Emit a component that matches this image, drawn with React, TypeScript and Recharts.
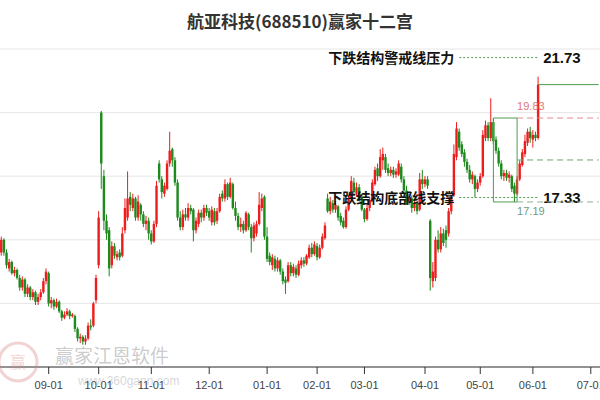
import React from 'react';
import { BarChart, Bar, XAxis, YAxis, CartesianGrid, ReferenceLine } from 'recharts';

// ---- data ----
const opens = [
  15.6, 16.0, 15.6, 15.1, 15.3, 14.95, 15.05, 14.8, 14.5, 14.75, 14.3, 14.5, 14.2, 14.35, 14.05, 14.2, 14.35, 14.7, 14.95, 14.0,
  14.1, 13.9, 14.05, 13.75, 13.55, 13.65, 13.75, 13.6, 13.6, 13.2, 12.9, 12.95, 12.8, 12.9, 13.3, 13.3, 14.1, 15.2, 20.0, 18.0,
  16.6, 16.3, 15.2, 15.8, 15.45, 15.6, 15.5, 16.3, 16.7, 17.35, 17.0, 17.3, 16.7, 17.1, 16.8, 16.5, 16.6, 16.2, 15.95, 16.5,
  18.4, 17.9, 17.45, 17.6, 18.4, 18.85, 18.5, 17.8, 16.7, 16.4, 16.8, 16.7, 17.0, 16.95, 16.3, 16.5, 16.85, 16.7, 17.0, 16.9,
  16.55, 16.9, 16.6, 16.9, 17.45, 17.3, 17.75, 17.35, 17.75, 17.0, 16.75, 16.4, 16.5, 16.3, 16.8, 16.4, 16.05, 16.2, 16.5, 17.0,
  17.35, 16.1, 15.5, 15.2, 15.4, 15.1, 15.35, 15.0, 14.75, 14.7, 15.2, 14.95, 15.1, 14.9, 15.2, 15.35, 15.25, 15.45, 15.75, 15.55,
  15.8, 15.45, 15.75, 16.05, 17.3, 16.9, 17.15, 16.95, 17.05, 16.75, 16.6, 16.4, 16.95, 17.3, 17.8, 17.45, 17.65, 17.35, 16.95, 16.65,
  17.0, 17.25, 17.75, 18.25, 18.0, 18.5, 18.6, 18.25, 18.1, 18.2, 18.05, 18.05, 18.3, 17.9, 17.55, 17.2, 17.3, 17.0, 17.15, 16.95,
  17.9, 17.75, 17.9, 16.6, 14.7, 14.8, 16.0, 15.7, 16.2, 16.3, 16.2, 16.9, 17.4, 18.6, 19.4, 19.0, 18.75, 18.45, 18.2, 17.9,
  18.0, 17.6, 17.8, 18.0, 19.2, 19.6, 19.2, 19.7, 19.15, 18.8, 18.4, 18.0, 18.1, 17.95, 18.0, 17.7, 17.45, 17.9, 18.35, 18.7,
  19.05, 19.4, 19.15, 19.3, 19.2,
];
const highs = [
  16.1, 16.05, 15.7, 15.4, 15.35, 15.15, 15.1, 14.9, 14.85, 14.8, 14.6, 14.55, 14.45, 14.4, 14.3, 14.45, 14.8, 15.1, 15.0, 14.2,
  14.15, 14.15, 14.1, 13.8, 13.75, 13.85, 13.8, 13.7, 13.65, 13.25, 13.05, 13.0, 13.0, 13.4, 13.5, 14.05, 14.9, 16.9, 20.05, 18.2,
  16.8, 16.4, 15.95, 15.9, 15.65, 15.7, 16.4, 17.3, 18.15, 17.5, 17.45, 17.35, 17.4, 17.15, 16.9, 16.75, 16.7, 16.3, 16.6, 17.85,
  18.5, 18.0, 17.8, 18.5, 19.4, 18.9, 18.6, 17.9, 16.9, 16.95, 17.0, 17.15, 17.1, 17.0, 16.7, 16.95, 16.95, 17.1, 17.1, 17.0,
  17.05, 17.0, 17.0, 17.45, 17.55, 17.9, 17.8, 17.95, 17.8, 17.2, 16.85, 16.7, 16.6, 16.9, 16.85, 16.5, 16.55, 16.6, 17.5, 17.45,
  17.4, 16.4, 15.6, 15.55, 15.5, 15.45, 15.4, 15.1, 14.85, 15.3, 15.3, 15.25, 15.2, 15.35, 15.45, 15.45, 15.55, 15.85, 15.9, 15.95,
  15.9, 15.85, 16.2, 16.55, 17.45, 17.35, 17.25, 17.2, 17.1, 16.85, 16.7, 17.05, 17.4, 18.0, 17.95, 17.8, 17.75, 17.45, 17.0, 17.1,
  17.35, 17.9, 18.3, 18.4, 18.85, 18.9, 18.7, 18.4, 18.3, 18.3, 18.25, 18.5, 18.4, 18.0, 17.7, 17.45, 17.4, 17.25, 17.2, 18.1,
  18.2, 18.0, 18.0, 16.65, 15.3, 16.1, 16.3, 16.4, 16.35, 16.45, 17.0, 17.4, 19.0, 19.7, 19.5, 19.1, 18.85, 18.55, 18.35, 18.15,
  18.05, 17.9, 18.1, 19.45, 19.75, 19.7, 20.45, 19.83, 19.25, 18.9, 18.5, 18.2, 18.2, 18.15, 18.05, 17.8, 18.0, 18.5, 18.85, 19.3,
  19.5, 19.55, 19.45, 19.4, 21.13,
];
const lows = [
  15.5, 15.5, 15.1, 15.0, 14.9, 14.85, 14.75, 14.4, 14.4, 14.2, 14.2, 14.1, 14.1, 13.95, 13.95, 14.1, 14.3, 14.6, 13.9, 13.85,
  13.8, 13.85, 13.7, 13.45, 13.5, 13.6, 13.5, 13.55, 13.1, 12.8, 12.75, 12.7, 12.7, 12.85, 13.15, 13.25, 14.0, 15.1, 17.6, 16.3,
  16.0, 14.85, 15.1, 15.4, 15.35, 15.35, 15.45, 16.2, 16.6, 16.9, 16.9, 16.6, 16.6, 16.6, 16.4, 16.3, 16.0, 15.85, 15.9, 16.4,
  17.8, 17.3, 17.35, 17.55, 18.3, 18.3, 17.7, 16.6, 16.3, 16.3, 16.6, 16.6, 16.8, 15.95, 16.2, 16.4, 16.55, 16.6, 16.75, 16.6,
  16.45, 16.45, 16.5, 16.85, 17.2, 17.2, 17.25, 17.3, 16.95, 16.6, 16.3, 16.25, 16.2, 16.25, 16.3, 15.6, 15.95, 16.1, 16.45, 16.9,
  16.0, 15.3, 15.2, 15.05, 15.0, 15.0, 14.9, 14.6, 14.3, 14.65, 14.85, 14.85, 14.8, 14.85, 15.1, 15.15, 15.2, 15.4, 15.45, 15.5,
  15.35, 15.4, 15.7, 16.0, 16.85, 16.8, 16.85, 16.85, 16.6, 16.45, 16.35, 16.35, 16.9, 17.25, 17.4, 17.35, 17.2, 16.9, 16.55, 16.6,
  16.9, 17.2, 17.7, 17.85, 17.95, 18.2, 18.1, 18.0, 18.0, 17.95, 17.95, 18.0, 17.8, 17.45, 17.1, 17.1, 16.85, 16.9, 16.8, 16.9,
  17.6, 17.65, 17.6, 14.4, 14.5, 14.7, 15.6, 15.6, 15.8, 15.75, 16.1, 16.8, 17.35, 18.5, 18.8, 18.6, 18.3, 18.1, 17.8, 17.75,
  17.33, 17.5, 17.7, 17.95, 19.1, 19.1, 19.1, 19.0, 18.7, 18.3, 17.9, 17.85, 17.85, 17.8, 17.5, 17.19, 17.4, 17.85, 18.3, 18.6,
  18.95, 19.05, 18.9, 19.1, 19.15,
];
const closes = [
  16.0, 15.6, 15.2, 15.3, 14.95, 15.05, 14.8, 14.5, 14.75, 14.3, 14.5, 14.2, 14.35, 14.05, 14.2, 14.35, 14.7, 15.0, 14.0, 14.1,
  13.9, 14.05, 13.75, 13.55, 13.65, 13.75, 13.6, 13.65, 13.2, 12.9, 12.95, 12.8, 12.9, 13.3, 13.25, 14.0, 14.8, 16.7, 18.4, 16.6,
  16.2, 15.1, 15.8, 15.5, 15.55, 15.45, 16.2, 17.0, 17.3, 17.1, 17.3, 16.7, 17.2, 16.8, 16.5, 16.6, 16.2, 15.95, 16.5, 17.7,
  17.9, 17.5, 17.7, 18.4, 18.8, 18.5, 17.8, 16.7, 16.4, 16.8, 16.7, 17.0, 16.9, 16.3, 16.6, 16.85, 16.7, 17.0, 16.85, 16.7,
  16.95, 16.55, 16.9, 17.35, 17.3, 17.75, 17.35, 17.8, 17.0, 16.75, 16.4, 16.5, 16.3, 16.85, 16.4, 16.05, 16.45, 16.5, 17.1, 17.3,
  16.1, 15.4, 15.3, 15.45, 15.1, 15.35, 15.0, 14.7, 14.65, 15.2, 14.95, 15.15, 14.9, 15.25, 15.35, 15.25, 15.5, 15.75, 15.55, 15.85,
  15.45, 15.75, 16.1, 16.45, 16.9, 17.2, 16.95, 17.1, 16.7, 16.55, 16.4, 16.95, 17.3, 17.85, 17.5, 17.65, 17.3, 16.95, 16.65, 17.0,
  17.25, 17.8, 18.2, 18.0, 18.6, 18.7, 18.2, 18.1, 18.2, 18.05, 18.15, 18.4, 17.9, 17.55, 17.2, 17.35, 17.0, 17.15, 16.9, 17.9,
  17.75, 17.9, 17.7, 14.8, 15.0, 16.0, 15.7, 16.2, 15.9, 16.0, 16.9, 17.35, 18.7, 19.5, 18.9, 18.7, 18.45, 18.2, 17.9, 18.05,
  17.6, 17.8, 18.0, 19.3, 19.6, 19.2, 19.7, 19.1, 18.8, 18.4, 18.0, 18.1, 17.95, 18.05, 17.6, 17.45, 17.9, 18.4, 18.75, 19.1,
  19.4, 19.2, 19.3, 19.2, 20.88,
];
const monthTickIdx = [18, 37, 57, 79, 101, 120, 138, 161, 182, 202, 224];
const monthLabels = ['09-01', '10-01', '11-01', '12-01', '01-01', '02-01', '03-01', '04-01', '05-01', '06-01', '07-01'];
const SLOT_COUNT = 228;
const yTicks = [12, 14, 16, 18, 20, 22];

const PRESSURE = 21.73;
const SUPPORT = 17.33;
const BOX_HIGH = 19.83;
const BOX_LOW = 17.19;
const BOX_MID = 18.51;
const LAST_CLOSE = 20.88;
const LINE_START = 174;
const BOX_START = 187;
const BOX_END = 196;
const LAST_IDX = 204;
const END_IDX = 227;

const RED = '#ee1d1d';
const GREEN = '#1c8a1c';
const LINE_GREEN = '#4e9e4e';
const CJK = '"Noto Sans CJK SC", "Noto Sans", sans-serif';
const LATIN = '"Liberation Sans", Arial, sans-serif';

const data = Array.from({ length: SLOT_COUNT }, (_, i) =>
  i < opens.length
    ? { i, o: opens[i], h: highs[i], l: lows[i], c: closes[i], range: [lows[i], highs[i]] }
    : { i, range: null }
);

const Candle = (props: any) => {
  const { x, y, width, height, payload } = props;
  if (!payload || payload.o == null) return null;
  const { o, h, l, c } = payload;
  const top = Math.min(y, y + height);
  const total = Math.abs(height);
  const span = h - l || 1;
  const yO = top + ((h - o) / span) * total;
  const yC = top + ((h - c) / span) * total;
  const color = c >= o ? RED : GREEN;
  const cx = x + width / 2;
  const bw = 2.4;
  const bTop = Math.min(yO, yC);
  const bH = Math.max(Math.abs(yO - yC), 1);
  return (
    <g>
      <line x1={cx} x2={cx} y1={top} y2={top + total} stroke={color} strokeWidth={1} />
      <rect x={cx - bw / 2} y={bTop} width={bw} height={bH} fill={color} />
    </g>
  );
};

const sideLabel = (text: string, value: string) => (props: any) => {
  const vb = props.viewBox || {};
  return (
    <g>
      <text x={vb.x - 5} y={vb.y} dy="0.36em" textAnchor="end" fontFamily={CJK} fontWeight={700} fontSize={14} fill="#111">
        {text}
      </text>
      <text x={vb.x + (vb.width || 0) + 5} y={vb.y} dy="0.36em" textAnchor="start" fontFamily={LATIN} fontWeight={700} fontSize={15} fill="#111">
        {value}
      </text>
    </g>
  );
};

const smallLabel = (value: string, color: string, dy: number) => (props: any) => {
  const vb = props.viewBox || {};
  return (
    <text x={vb.x} y={vb.y + dy} textAnchor="start" fontFamily={LATIN} fontSize={11} fill={color}>
      {value}
    </text>
  );
};

export default function App() {
  return (
    <div style={{ position: 'absolute', left: 0, top: 0, width: 600, height: 400, background: '#fff', overflow: 'hidden' }}>
      <div
        style={{
          position: 'absolute', left: 0, top: 8, width: 600, textAlign: 'center',
          fontFamily: CJK, fontWeight: 700, fontSize: 17, lineHeight: '26px', color: '#333',
        }}
      >
        航亚科技(688510)赢家十二宫
      </div>
      <BarChart width={600} height={400} data={data} margin={{ top: 49, right: 0, bottom: 0, left: 0 }} barCategoryGap="10%">
        <CartesianGrid vertical={false} stroke="#e6e6e6" />
        <XAxis
          dataKey="i"
          type="category"
          ticks={monthTickIdx}
          interval={0}
          tickFormatter={(v: any) => monthLabels[monthTickIdx.indexOf(Number(v))] ?? ''}
          height={33}
          tickSize={7}
          tickMargin={7}
          axisLine={{ stroke: '#333' }}
          tickLine={{ stroke: '#333' }}
          tick={{ fontSize: 11, fill: '#444', fontFamily: LATIN }}
        />
        <YAxis hide type="number" domain={[12, 22]} ticks={yTicks} allowDataOverflow />
        <Bar dataKey="range" shape={<Candle />} isAnimationActive={false} />

        {/* pressure & support dotted lines with labels */}
        <ReferenceLine
          segment={[{ x: LINE_START, y: PRESSURE }, { x: LAST_IDX, y: PRESSURE }]}
          stroke={LINE_GREEN}
          strokeDasharray="2 2"
          label={sideLabel('下跌结构警戒线压力', PRESSURE.toFixed(2))}
        />
        <ReferenceLine
          segment={[{ x: LINE_START, y: SUPPORT }, { x: LAST_IDX, y: SUPPORT }]}
          stroke={LINE_GREEN}
          strokeDasharray="2 2"
          label={sideLabel('下跌结构底部线支撑', SUPPORT.toFixed(2))}
        />

        {/* box */}
        <ReferenceLine segment={[{ x: BOX_START, y: BOX_HIGH }, { x: BOX_END, y: BOX_HIGH }]} stroke={LINE_GREEN} />
        <ReferenceLine segment={[{ x: BOX_START, y: BOX_LOW }, { x: BOX_END, y: BOX_LOW }]} stroke={LINE_GREEN} />
        <ReferenceLine segment={[{ x: BOX_START, y: BOX_LOW }, { x: BOX_START, y: BOX_HIGH }]} stroke={LINE_GREEN} />
        <ReferenceLine segment={[{ x: BOX_END, y: BOX_LOW }, { x: BOX_END, y: BOX_HIGH }]} stroke={LINE_GREEN} />

        {/* right side projections */}
        <ReferenceLine
          segment={[{ x: BOX_END, y: BOX_HIGH }, { x: END_IDX, y: BOX_HIGH }]}
          stroke="#e58a8a"
          strokeDasharray="6 4"
          label={smallLabel(BOX_HIGH.toFixed(2), '#e57373', -8)}
        />
        <ReferenceLine segment={[{ x: BOX_END, y: BOX_MID }, { x: END_IDX, y: BOX_MID }]} stroke="#6aa56a" strokeDasharray="6 4" />
        <ReferenceLine
          segment={[{ x: BOX_END, y: BOX_LOW }, { x: END_IDX, y: BOX_LOW }]}
          stroke="#8fae95"
          strokeDasharray="6 4"
          label={smallLabel(BOX_LOW.toFixed(2), '#6f9a80', 13)}
        />
        <ReferenceLine segment={[{ x: LAST_IDX, y: LAST_CLOSE }, { x: END_IDX, y: LAST_CLOSE }]} stroke={LINE_GREEN} />
      </BarChart>

      {/* watermark */}
      <svg width={44} height={50} style={{ position: 'absolute', left: -4, top: 338, pointerEvents: 'none' }}>
        <circle cx={22} cy={24} r={19} fill="none" stroke="rgba(215,130,130,0.35)" strokeWidth={3} />
        <text x={22} y={30} textAnchor="middle" fontFamily={CJK} fontSize={16} fill="rgba(215,130,130,0.35)">赢</text>
      </svg>
      <div
        style={{
          position: 'absolute', left: 55, top: 343, fontFamily: CJK, fontSize: 19, lineHeight: '24px',
          color: 'rgba(140,140,140,0.45)', pointerEvents: 'none', whiteSpace: 'nowrap',
        }}
      >
        赢家江恩软件
      </div>
      <div
        style={{
          position: 'absolute', left: 78, top: 374, fontFamily: LATIN, fontSize: 12, lineHeight: '14px',
          color: 'rgba(150,150,150,0.4)', pointerEvents: 'none', whiteSpace: 'nowrap',
        }}
      >
        www.360gann.com
      </div>
    </div>
  );
}
